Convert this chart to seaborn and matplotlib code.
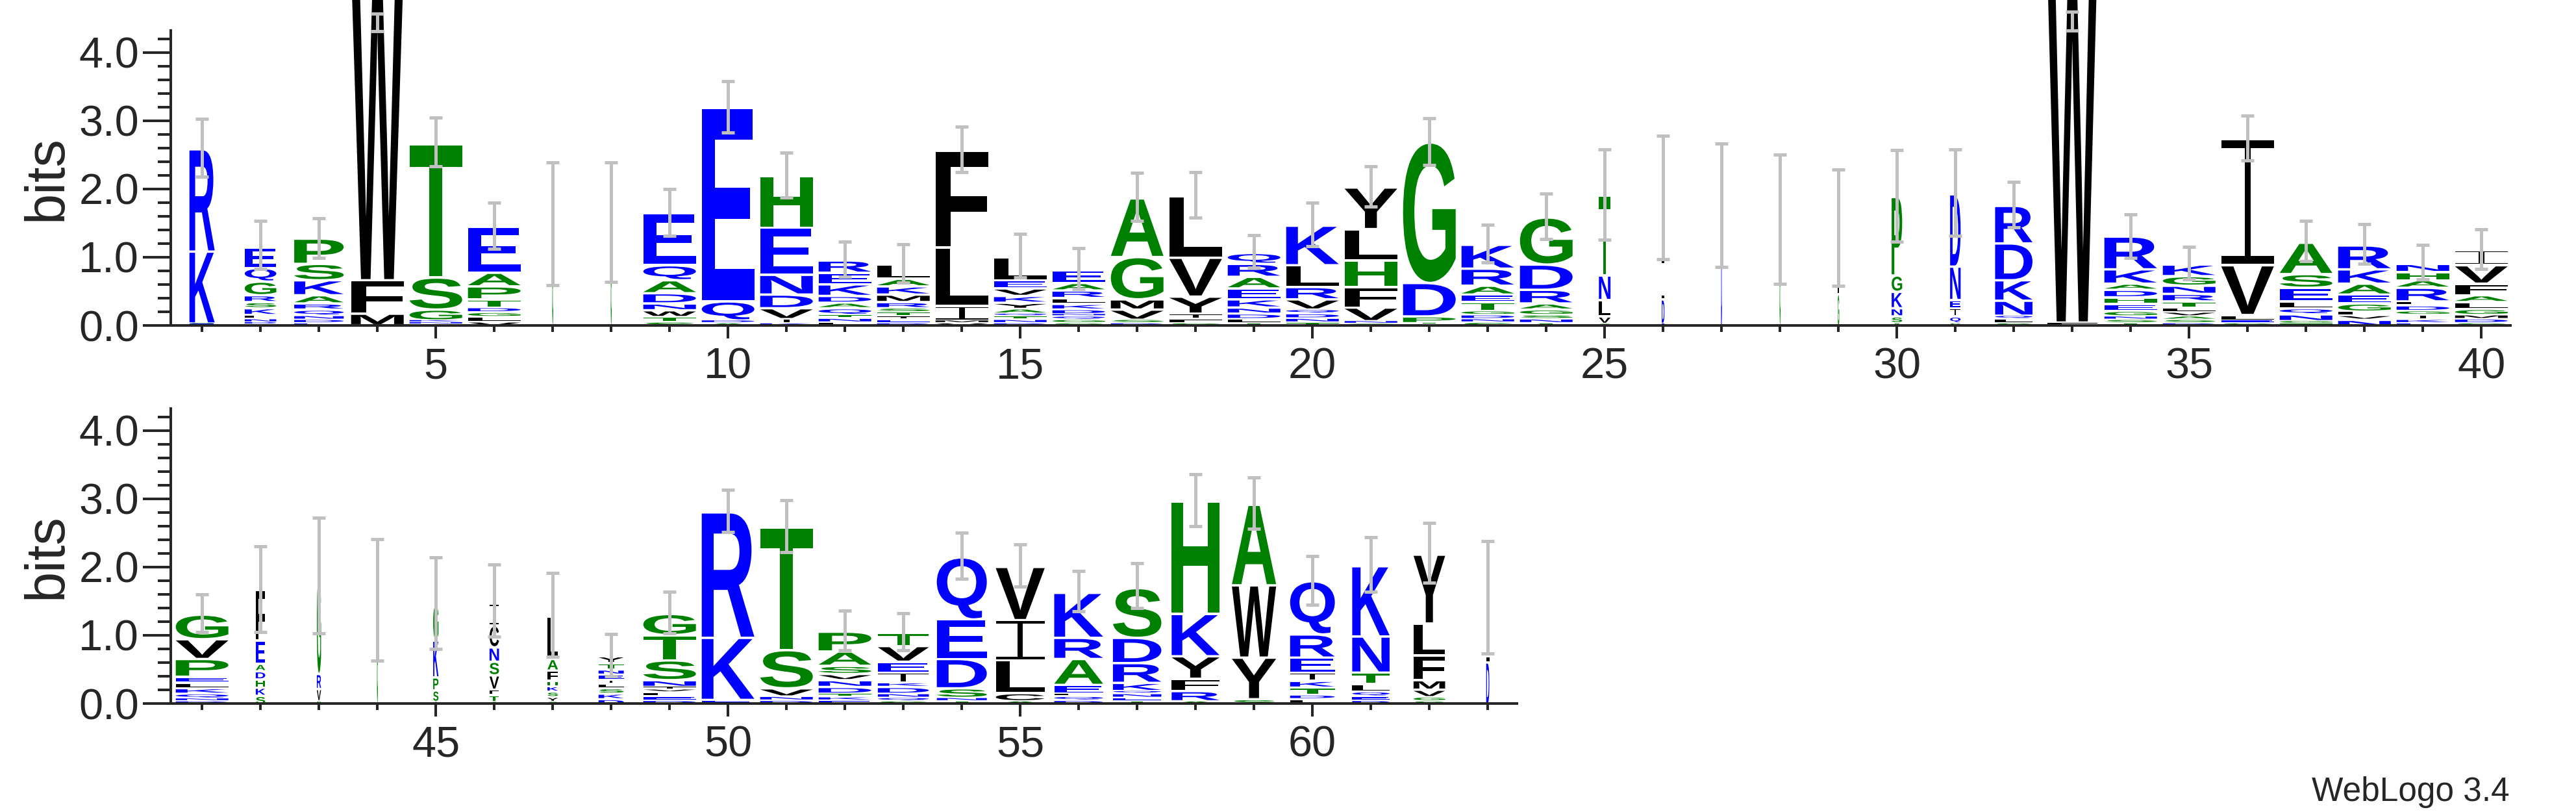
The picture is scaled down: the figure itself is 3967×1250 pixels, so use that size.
import matplotlib
matplotlib.use('Agg')
from matplotlib import pyplot as plt
from matplotlib import font_manager
from matplotlib.textpath import TextPath
from matplotlib.path import Path
from matplotlib.patches import PathPatch
from matplotlib.transforms import Affine2D
from matplotlib.ticker import MultipleLocator
import pandas as pd
import seaborn as sns

sns.set_style('ticks')

# sequence positions, two rows of the logo
positions_top = list(range(1, 41))
positions_bottom = list(range(41, 64))

# stack letters, bottom -> top, one string per position
stack_letters = [
    'AESKR', 'VDNLKSRGQE', 'EDNQRAKSP', 'DMFW', 'DNKGST', 'VLGDTPAE', 'G', 'G',
    'STWNDAQE', 'ADQE', 'KIVDNEH', 'LNTQADKER', 'DEITSRMKAL', 'VMILF',
    'DNTQAYKVEL', 'SGQNDKLRAE', 'DSVMGA', 'SFIYVL', 'TLDNKEARQ', 'TNDQVRLK',
    'GNVFHLY', 'ETPDG', 'SNDGTEARK', 'TNSGARDG', 'GVLNT', 'EDIG', 'D', 'G',
    'GL', 'ASNKGP', 'SQIEND', 'SLQNKDR', 'FW', 'TSNGEHDAKR', 'DSAVLTRNGK',
    'SELVI', 'TGNQLESA', 'NVLGEAKR', 'EKIGDLRAHN', 'SDMGLAFVI',
    'DNQKLEPVG', 'SKHDAEF', 'SVRG', 'G', 'ASPKG', 'ATFVSNCI', 'GYSKHFAL',
    'DKSLIENTY', 'DELVINSTG', 'EKR', 'DNVST', 'EKTDNVSAP', 'SQNDKIEVT',
    'TNSDEQ', 'ACLIV', 'DQLEARK', 'TENQKRDS', 'ARFYKH', 'SYWA', 'LDTKIERQ',
    'DEQLTNK', 'SGVMFLY', 'DI',
]

# letter heights in bits, same order
stack_heights = [
    [.015, .015, .015, 1.055, 1.5],
    [.03, .03, .05, .06, .1, .09, .1, .2, .2, .3],
    [.05, .05, .06, .09, .09, .12, .22, .24, .37],
    [.02, .17, .49, 4.62],
    [.03, .03, .03, .16, .47, 1.95],
    [.07, .07, .07, .07, .12, .19, .2, .67],
    [1.5],
    [1.52],
    [.07, .07, .1, .1, .15, .19, .22, .76],
    [.05, .04, .28, 2.84],
    [.05, .06, .16, .2, .29, .69, .76],
    [.06, .06, .05, .1, .08, .1, .17, .17, .18],
    [.05, .05, .05, .06, .06, .09, .11, .12, .11, .21],
    [.05, .04, .21, .86, 1.42],
    [.05, .05, .05, .04, .07, .09, .1, .11, .12, .34],
    [.05, .05, .05, .03, .07, .08, .09, .11, .11, .19],
    [.05, .05, .15, .15, .62, .86],
    [.05, .06, .08, .25, .57, .9],
    [.05, .06, .08, .09, .12, .16, .17, .19, .16],
    [.06, .06, .07, .06, .15, .18, .32, .58],
    [.04, .04, .2, .3, .39, .46, .61],
    [.03, .02, .1, .49, 2.06],
    [.06, .05, .06, .06, .13, .11, .13, .25, .35],
    [.05, .06, .06, .08, .09, .2, .37, .69],
    [.04, .11, .24, .36, 1.17],
    [.04, .36, .58, .9],
    [1.77],
    [1.55],
    [.48, .95],
    [.05, .1, .12, .24, .24, 1.15],
    [.05, .1, .12, .12, .49, 1.06],
    [.05, .06, .05, .22, .3, .54, .55],
    [.06, 5.24],
    [.05, .05, .05, .08, .1, .1, .11, .09, .21, .48],
    [.05, .05, .05, .06, .07, .09, .11, .12, .14, .17],
    [.05, .04, .08, .73, 1.85],
    [.04, .04, .1, .09, .1, .2, .2, .46],
    [.1, .06, .06, .12, .13, .16, .21, .35],
    [.05, .05, .07, .06, .08, .06, .2, .11, .12, .12],
    [.05, .06, .06, .09, .1, .1, .17, .27, .22],
    [.05, .04, .07, .08, .08, .09, .26, .29, .36],
    [.13, .12, .12, .12, .11, .34, .74],
    [.05, .18, .22, 1.43],
    [1.52],
    [.04, .17, .19, .54, .53],
    [.04, .1, .08, .21, .2, .21, .32, .32],
    [.04, .07, .08, .08, .08, .15, .17, .62],
    [.08, .08, .08, .06, .06, .08, .07, .1, .1],
    [.06, .06, .06, .04, .04, .1, .29, .37, .31],
    [.07, .91, 1.84],
    [.06, .06, .12, .56, 1.8],
    [.06, .05, .05, .1, .1, .09, .12, .21, .29],
    [.05, .05, .06, .1, .06, .15, .16, .23, .19],
    [.05, .05, .14, .43, .58, .91],
    [.05, .12, .48, .59, .78],
    [.06, .06, .04, .13, .38, .31, .66],
    [.05, .05, .06, .04, .12, .29, .37, .73],
    [.05, .15, .18, .33, .62, 1.65],
    [.08, .61, 1.06, 1.18],
    [.08, .06, .11, .1, .12, .22, .34, .78],
    [.06, .06, .07, .11, .17, .53, 1.03],
    [.05, .06, .11, .14, .36, .47, 1.01],
    [.62, .93],
]

# relative stack width (fraction of sequences without a gap)
stack_width = [
    .48, .6, .94, 1, 1, 1, .02, .02, 1, 1, 1, 1, 1, 1, 1, 1, 1, 1, 1, 1,
    1, 1, 1, 1, .22, .05, .02, .02, .03, .2, .2, .71, .95, 1, 1, 1, 1, 1, 1, 1,
    1, .18, .08, .02, .1, .18, .2, .48, 1, 1, 1, 1, .97, .95, .93, .93, .92,
    .91, .84, .85, .71, .6, .06,
]

# error bar ends in bits
err_lo = [
    2.18, .83, .99, 4.31, 2.33, 1.12, .59, .64, 1.31, 2.83, 1.88, .71, .63,
    2.25, .70, .53, 1.53, 1.58, .85, 1.16, 1.74, 2.35, .92, 1.27, 1.26, .97,
    .86, .61, .58, 1.23, 1.31, 1.44, 4.32, .99, .68, 2.42, .94, .9, .68, .83,
    1.05, 1.05, 1.03, .63, .8, .98, .69, .4, 1.03, 2.51, 2.22, .78, .78, 1.83,
    1.71, 1.35, 1.4, 2.6, 2.56, 1.45, 1.64, 1.77, .73,
]
err_hi = [
    3.03, 1.53, 1.57, 4.57, 3.05, 1.8, 2.39, 2.39, 2.0, 3.58, 2.53, 1.23, 1.19,
    2.91, 1.34, 1.13, 2.24, 2.25, 1.32, 1.8, 2.33, 3.04, 1.48, 1.93, 2.58, 2.78,
    2.67, 2.5, 2.29, 2.57, 2.58, 2.1, 4.6, 1.63, 1.15, 3.08, 1.53, 1.49, 1.18, 1.41,
    1.6, 2.3, 2.72, 2.41, 2.14, 2.04, 1.91, 1.02, 1.64, 3.13, 2.98, 1.36, 1.32, 2.5,
    2.33, 1.94, 2.06, 3.36, 3.31, 2.16, 2.44, 2.65, 2.38,
]

# hydrophobicity colour scheme
scheme = {}
for aa in 'RKDENQ':
    scheme[aa] = '#0000ff'
for aa in 'SGHTAP':
    scheme[aa] = '#008000'
for aa in 'YVMCLFIW':
    scheme[aa] = '#000000'


def pick_font(names):
    for n in names:
        try:
            font_manager.findfont(font_manager.FontProperties(family=n), fallback_to_default=False)
            return n
        except ValueError:
            pass
    return 'DejaVu Sans'


label_font = pick_font(['Liberation Sans', 'DejaVu Sans'])
glyph_font = font_manager.FontProperties(family=label_font, weight='bold')
plt.rcParams['font.family'] = [label_font, 'DejaVu Sans']

# one row per letter
rows = []
for i, (lets, hts) in enumerate(zip(stack_letters, stack_heights)):
    pos = i + 1
    base = 0.0
    for ch, h in zip(lets, hts):
        rows.append({'pos': pos, 'letter': ch, 'bottom': base, 'height': h,
                     'width': 0.9 * stack_width[i], 'color': scheme[ch]})
        base += h
letters = pd.DataFrame(rows)

# weblogo draws a capital I with bars top and bottom
bar, stem = 0.065, 0.055
i_path = Path([(0, 0), (1, 0), (1, bar), (.5 + stem, bar), (.5 + stem, 1 - bar), (1, 1 - bar),
               (1, 1), (0, 1), (0, 1 - bar), (.5 - stem, 1 - bar), (.5 - stem, bar), (0, bar), (0, 0)],
              [Path.MOVETO] + [Path.LINETO] * 11 + [Path.CLOSEPOLY])

glyphs = {'I': i_path}
def glyph(ch):
    if ch not in glyphs:
        glyphs[ch] = TextPath((0, 0), ch, size=1, prop=glyph_font)
    return glyphs[ch]


def draw_stacks(ax, df):
    for r in df.itertuples():
        h = r.height
        gh = h - 0.035 if h > 0.0875 else h * 0.6
        p = glyph(r.letter)
        bb = p.get_extents()
        t = Affine2D().translate(-bb.x0, -bb.y0).scale(r.width / bb.width, gh / bb.height)
        t = t.translate(r.pos - r.width / 2, r.bottom)
        ax.add_patch(PathPatch(t.transform_path(p), fc=r.color, ec='none', lw=0,
                               clip_on=False, zorder=2))


def draw_errors(ax, pos_list):
    idx = [p - 1 for p in pos_list]
    mid = [(err_lo[i] + err_hi[i]) / 2 for i in idx]
    half = [(err_hi[i] - err_lo[i]) / 2 for i in idx]
    eb = ax.errorbar(pos_list, mid, yerr=half, fmt='none', ecolor='#c0c0c0',
                     elinewidth=3.6, capsize=7.5, capthick=3.6, zorder=5)
    for art in list(eb.lines[1]) + list(eb.lines[2]):
        art.set_clip_on(False)


def style_axis(ax, lo, hi):
    ax.set_xlim(lo, hi)
    ax.set_ylim(0, 4.32)
    sns.despine(ax=ax)
    ax.spines['left'].set_linewidth(2.9)
    ax.spines['bottom'].set_linewidth(2.9)
    ax.spines['left'].set_position(('outward', 2.5))
    ax.xaxis.set_major_locator(MultipleLocator(5))
    ax.xaxis.set_minor_locator(MultipleLocator(1))
    ax.yaxis.set_major_locator(MultipleLocator(1))
    ax.yaxis.set_minor_locator(MultipleLocator(0.2))
    ax.yaxis.set_major_formatter(plt.FuncFormatter(lambda v, p: '%.1f' % v))
    ax.tick_params(axis='y', which='major', length=31, width=2.9, pad=4, labelsize=48)
    ax.tick_params(axis='y', which='minor', length=14.4, width=2.9)
    ax.tick_params(axis='x', which='major', length=14.4, width=2.9, pad=10, labelsize=48)
    ax.tick_params(axis='x', which='minor', length=7.2, width=2.9)
    ax.set_ylabel('bits', fontsize=61, labelpad=6)
    ax.patch.set_alpha(0)


fig = plt.figure(figsize=(39.67, 12.5), dpi=100)
ax1 = fig.add_axes([0.0671, 0.5992, 0.9075, 0.3629])
ax2 = fig.add_axes([0.0671, 0.1336, 0.5218, 0.3629])

style_axis(ax1, 0.5, 40.5)
style_axis(ax2, 40.5, 63.5)

draw_stacks(ax1, letters[letters['pos'] <= 40])
draw_stacks(ax2, letters[letters['pos'] > 40])
draw_errors(ax1, positions_top)
draw_errors(ax2, positions_bottom)

fig.text(3865 / 3967, 17 / 1250, 'WebLogo 3.4', ha='right', va='baseline', fontsize=37)

fig.savefig('out.png', dpi=100)
print('finished')
